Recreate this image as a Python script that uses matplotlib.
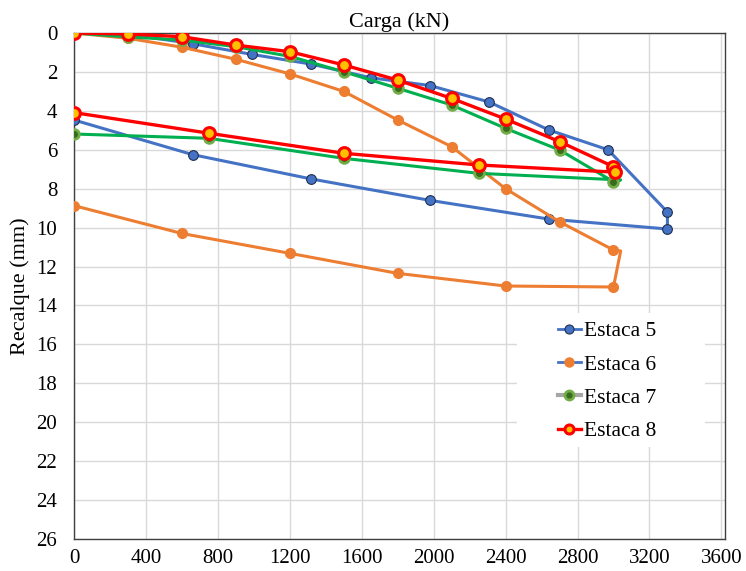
import matplotlib
matplotlib.use("Agg")
import matplotlib.pyplot as plt
from matplotlib.lines import Line2D
from matplotlib.patches import Rectangle

# Estaca 5 (loading + unloading)
e5_carga = [0, 330, 660, 990, 1320, 1650, 1980, 2310, 2640, 2970, 3300, 3300, 2640, 1980, 1320, 660, 0]
e5_recalque = [0, 0.1, 0.55, 1.1, 1.6, 2.3, 2.7, 3.55, 4.98, 6.0, 9.2, 10.07, 9.56, 8.6, 7.5, 6.25, 4.47]

# Estaca 6
e6_carga = [0, 300, 600, 900, 1200, 1500, 1800, 2100, 2400, 2700, 3000, 3040, 3000, 2400, 1800, 1200, 600, 0]
e6_recalque = [0, 0.27, 0.73, 1.35, 2.1, 3.0, 4.47, 5.84, 8.0, 9.7, 11.15, 11.2, 13.05, 13.0, 12.35, 11.32, 10.3, 8.87]
e6_marks = [0, 1, 2, 3, 4, 5, 6, 7, 8, 9, 10, 12, 13, 14, 15, 16, 17]

# Estaca 7
e7_carga = [0, 300, 600, 900, 1200, 1500, 1800, 2100, 2400, 2700, 3000, 3040, 2250, 1500, 750, 0]
e7_recalque = [0, 0.2, 0.36, 0.7, 1.2, 1.99, 2.84, 3.7, 4.9, 6.01, 7.64, 7.55, 7.21, 6.44, 5.41, 5.19]
e7_marks = [0, 1, 2, 3, 4, 5, 6, 7, 8, 9, 10, 12, 13, 14, 15]

# Estaca 8
e8_carga = [0, 300, 600, 900, 1200, 1500, 1800, 2100, 2400, 2700, 3000, 3010, 2250, 1500, 750, 0]
e8_recalque = [0, 0.05, 0.19, 0.62, 0.96, 1.64, 2.42, 3.36, 4.42, 5.58, 6.87, 7.15, 6.78, 6.18, 5.15, 4.09]

x_ticks = [0, 400, 800, 1200, 1600, 2000, 2400, 2800, 3200, 3600]
y_ticks = list(range(0, 27, 2))

plt.rcParams['font.family'] = ['Liberation Serif', 'DejaVu Serif']

fig = plt.figure(figsize=(7.46, 5.71), dpi=100)
ax = fig.add_axes([0.0992, 0.056, 0.8726, 0.8862])

ax.plot(e5_carga, e5_recalque, color='#4472C4', lw=2.2, marker='o', ms=7,
        mfc='#4472C4', mec='#203050', mew=0.8, zorder=3)
ax.plot(e6_carga, e6_recalque, color='#ED7D31', lw=2.2, marker='o', ms=7,
        mfc='#ED7D31', mec='#ED7D31', markevery=e6_marks, zorder=3)
ax.plot(e7_carga, e7_recalque, color='#00B050', lw=2.2, marker='o', ms=7,
        mfc='#3A6A1E', mec='#70AD47', mew=2.0, markevery=e7_marks, zorder=4)
ax.plot(e8_carga, e8_recalque, color='#FF0000', lw=2.4, marker='o', ms=8.5,
        mfc='#FFC000', mec='#FF0000', mew=2.2, zorder=5)

ax.set_xlim(0, 3620)
ax.set_ylim(26, 0)
ax.set_xticks(x_ticks)
ax.set_yticks(y_ticks)
ax.tick_params(length=0, labelsize=15)
ax.tick_params(axis='y', pad=12)
ax.tick_params(axis='x', pad=7)
ax.grid(True, color='#D9D9D9', lw=1)
ax.set_axisbelow(True)
for s in ax.spines.values():
    s.set_color('#404040')
    s.set_linewidth(1)

ax.set_title("Carga (kN)", fontsize=16, pad=4)
ax.set_ylabel("Recalque (mm)", fontsize=16, labelpad=5)

# white legend area, as in the original
ax.add_patch(Rectangle((0.68, 0.182), 0.29, 0.265, transform=ax.transAxes,
                       facecolor='white', edgecolor='none', zorder=2))

# legend as drawn in the original (line colours differ from series)
handles = [
    Line2D([], [], color='#4472C4', lw=2, marker='o', ms=6.5, mfc='#4472C4', mec='#203050', mew=0.8),
    Line2D([], [], color='#4472C4', lw=2, marker='o', ms=6.5, mfc='#ED7D31', mec='#ED7D31'),
    Line2D([], [], color='#A5A5A5', lw=3, marker='o', ms=6.5, mfc='#3A6A1E', mec='#70AD47', mew=2.0),
    Line2D([], [], color='#FF0000', lw=2.4, marker='o', ms=6.5, mfc='#FFC000', mec='#FF0000', mew=2.2),
]
ax.legend(handles, ["Estaca 5", "Estaca 6", "Estaca 7", "Estaca 8"],
          loc='upper left', bbox_to_anchor=(0.727, 0.452), frameon=False,
          borderpad=0, fontsize=15.5, handlelength=1.05, handletextpad=0.15,
          labelspacing=0.62)

fig.savefig("out.png", dpi=100)
